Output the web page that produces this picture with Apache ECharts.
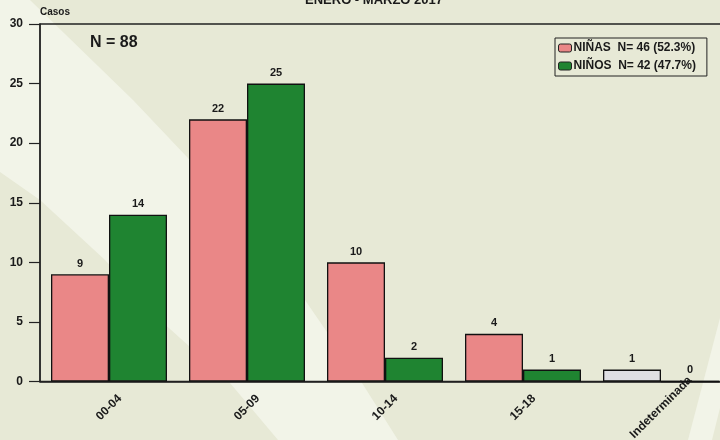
<!DOCTYPE html>
<html>
<head>
<meta charset="utf-8">
<script src="https://cdn.jsdelivr.net/npm/echarts@6/dist/echarts.min.js"></script>
<style>html,body{margin:0;padding:0;}#c{width:720px;height:440px;}</style>
</head>
<body>
<div id="c"></div>
<script>
// ---- data ----
const categories = ['00-04', '05-09', '10-14', '15-18', 'Indeterminada'];
const ninas = [9, 22, 10, 4, 1];
const ninos = [14, 25, 2, 1, 0];
const legendNinas = 'NIÑAS  N= 46 (52.3%)';
const legendNinos = 'NIÑOS  N= 42 (47.7%)';
const titleText = 'ENERO - MARZO 2017';
const totalText = 'N = 88';
const yName = 'Casos';

const PINK = '#ea8787', GREEN = '#1f8431', GREY = '#dfdfe3';
const FONT = 'Liberation Sans, Arial, sans-serif';
const TXT = '#1a1a1a';

const chart = echarts.init(document.getElementById('c'), null, {renderer: 'canvas'});

const ninasData = ninas.map((v, i) => i === categories.length - 1
  ? {value: v, itemStyle: {color: GREY}} : v);

chart.setOption({
  backgroundColor: '#e7e9d6',
  animation: false,
  textStyle: {fontFamily: FONT},
  graphic: [
    {type: 'polygon', z: -10, silent: true,
     shape: {points: [[0,0],[30,0],[133,100],[187,157],[305,300],[362,383],[398,440],[278,440],[230,383],[160,320],[105,260],[40,200],[0,172]]},
     style: {fill: '#f2f4e8'}},
    {type: 'polygon', z: -10, silent: true,
     shape: {points: [[720,318],[688,440],[712,440],[720,408]]},
     style: {fill: '#f2f4e8'}},
    {type: 'text', z: 10, style: {text: titleText, x: 374, y: 0, textAlign: 'center', textVerticalAlign: 'middle',
      font: 'bold 13px ' + FONT, fill: TXT}},
    {type: 'text', z: 10, style: {text: yName, x: 40, y: 12, textAlign: 'left', textVerticalAlign: 'middle',
      font: 'bold 10px ' + FONT, fill: TXT}},
    {type: 'text', z: 10, style: {text: totalText, x: 90, y: 43, textAlign: 'left', textVerticalAlign: 'middle',
      font: 'bold 16px ' + FONT, fill: TXT}}
  ],
  legend: {
    orient: 'vertical',
    left: 555, top: 38,
    padding: [4, 11, 4, 3],
    itemGap: 6,
    itemWidth: 13, itemHeight: 8,
    borderColor: '#222', borderWidth: 1,
    backgroundColor: 'transparent',
    textStyle: {fontWeight: 'bold', fontSize: 12, color: TXT, fontFamily: FONT, padding: [0, 0, 0, -3]},
    data: [
      {name: legendNinas, itemStyle: {color: PINK, borderColor: '#222', borderWidth: 1}},
      {name: legendNinos, itemStyle: {color: GREEN, borderColor: '#222', borderWidth: 1}}
    ]
  },
  grid: {
    left: 40, width: 690, top: 24, height: 357.5,
    outerBoundsMode: 'none', containLabel: false,
    show: true, borderColor: '#222', borderWidth: 1.3, backgroundColor: 'transparent'
  },
  xAxis: {
    type: 'category',
    data: categories,
    axisLine: {lineStyle: {color: '#222', width: 1.5}},
    axisTick: {alignWithLabel: true, length: 10, lineStyle: {color: '#222', width: 1.2}},
    axisLabel: {interval: 0, rotate: 45, align: 'center', verticalAlign: 'middle', margin: 26,
      fontWeight: 'bold', fontSize: 12, color: TXT, fontFamily: FONT},
    splitLine: {show: false}
  },
  yAxis: {
    type: 'value', min: 0, max: 30, interval: 5,
    axisLine: {show: true, lineStyle: {color: '#222', width: 1.5}},
    axisTick: {show: true, length: 11, lineStyle: {color: '#222', width: 1.2}},
    axisLabel: {margin: 17, fontWeight: 'bold', fontSize: 12, color: TXT, fontFamily: FONT},
    splitLine: {show: false}
  },
  series: [
    {
      name: legendNinas, type: 'bar', data: ninasData,
      barWidth: 58, barGap: '0%',
      itemStyle: {color: PINK, borderColor: '#111', borderWidth: 1.3},
      label: {show: true, position: 'top', distance: 5, fontWeight: 'bold', fontSize: 11, color: TXT, fontFamily: FONT}
    },
    {
      name: legendNinos, type: 'bar', data: ninos,
      barWidth: 58, barGap: '0%',
      itemStyle: {color: GREEN, borderColor: '#111', borderWidth: 1.3},
      label: {show: true, position: 'top', distance: 5, fontWeight: 'bold', fontSize: 11, color: TXT, fontFamily: FONT}
    }
  ]
});
</script>
</body>
</html>
